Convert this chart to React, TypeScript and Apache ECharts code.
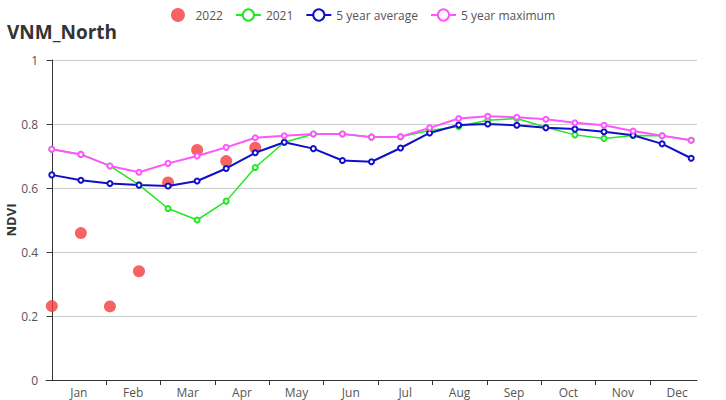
import React, { useEffect, useRef } from "react";
import * as echarts from "echarts";

const months = ["Jan", "Feb", "Mar", "Apr", "May", "Jun", "Jul", "Aug", "Sep", "Oct", "Nov", "Dec"];
const pointIndex = Array.from({ length: 23 }, (_, i) => i);
const y2022 = [0.231, 0.459, 0.23, 0.34, 0.617, 0.719, 0.684, 0.726];
const y2021 = [0.721, 0.705, 0.669, 0.61, 0.536, 0.5, 0.559, 0.664, 0.743, 0.769, 0.769, 0.759, 0.76, 0.78, 0.792, 0.812, 0.817, 0.79, 0.766, 0.755, 0.764, 0.763, 0.749];
const avg5 = [0.641, 0.624, 0.614, 0.609, 0.606, 0.622, 0.661, 0.71, 0.743, 0.723, 0.686, 0.682, 0.725, 0.772, 0.797, 0.8, 0.796, 0.788, 0.784, 0.776, 0.765, 0.738, 0.693];
const max5 = [0.721, 0.705, 0.669, 0.649, 0.677, 0.7, 0.727, 0.757, 0.763, 0.769, 0.769, 0.759, 0.76, 0.788, 0.817, 0.824, 0.821, 0.815, 0.804, 0.796, 0.778, 0.763, 0.749];

const FONT = "'Open Sans', 'Noto Sans', sans-serif";

export default function App() {
  const ref = useRef<HTMLDivElement>(null);
  useEffect(() => {
    document.body.style.margin = "0";
    const chart = echarts.init(ref.current!, null, { renderer: "svg" });
    const pair = (arr: number[]) => arr.map((v, i) => [pointIndex[i], v]);
    chart.setOption({
      animation: false,
      textStyle: { fontFamily: FONT },
      title: {
        text: "VNM_North",
        left: 2,
        top: 17,
        textStyle: { fontSize: 19, fontWeight: "bold", color: "#333", fontFamily: FONT },
      },
      legend: {
        top: 3,
        left: "center",
        itemGap: 12,
        itemWidth: 25,
        itemHeight: 14,
        textStyle: { fontSize: 12, color: "#555", fontFamily: FONT },
        data: [
          { name: "2022", icon: "circle" },
          "2021",
          "5 year average",
          "5 year maximum",
        ],
      },
      grid: { left: 46, right: 29, top: 60, bottom: 20, containLabel: false, outerBoundsMode: "none" },
      xAxis: [
        { type: "value", min: -0.2, max: 22.2, show: false },
        {
          type: "value",
          min: -0.103,
          max: 11.864,
          position: "bottom",
          axisLine: { show: true, lineStyle: { color: "#333" } },
          axisTick: { show: true, customValues: [1, 2, 3, 4, 5, 6, 7, 8, 9, 10, 11], lineStyle: { color: "#333" } },
          axisLabel: {
            customValues: months.map((_, i) => i + 0.5),
            formatter: (v: number) => months[Math.round(v - 0.5)] ?? "",
            color: "#555",
            fontSize: 12,
            margin: 6,
            fontFamily: FONT,
          },
          splitLine: { show: false },
        },
      ],
      yAxis: {
        type: "value",
        min: 0,
        max: 1,
        interval: 0.2,
        name: "NDVI",
        nameLocation: "middle",
        nameGap: 29,
        nameMoveOverlap: false,
        nameTextStyle: { fontWeight: "bold", fontSize: 13, color: "#333", fontFamily: FONT },
        axisLine: { show: true, lineStyle: { color: "#333" } },
        axisTick: { show: true, lineStyle: { color: "#333" } },
        axisLabel: { color: "#555", fontSize: 12, fontFamily: FONT },
        splitLine: { show: true, lineStyle: { color: "#ccc" } },
      },
      series: [
        {
          name: "2022",
          type: "scatter",
          xAxisIndex: 0,
          data: pair(y2022),
          symbolSize: 12,
          itemStyle: { color: "#f23c3c" },
        },
        {
          name: "2021",
          type: "line",
          xAxisIndex: 0,
          data: pair(y2021),
          symbol: "emptyCircle",
          symbolSize: 5,
          lineStyle: { width: 1.5, color: "#22e822" },
          itemStyle: { color: "#22e822" },
        },
        {
          name: "5 year average",
          type: "line",
          xAxisIndex: 0,
          data: pair(avg5),
          symbol: "emptyCircle",
          symbolSize: 5,
          lineStyle: { width: 2, color: "#1010c8" },
          itemStyle: { color: "#1010c8" },
        },
        {
          name: "5 year maximum",
          type: "line",
          xAxisIndex: 0,
          data: pair(max5),
          symbol: "emptyCircle",
          symbolSize: 5,
          lineStyle: { width: 2, color: "#ff55ff" },
          itemStyle: { color: "#ff55ff" },
        },
      ],
    });
    return () => chart.dispose();
  }, []);
  return <div ref={ref} style={{ position: "absolute", left: 0, top: 0, width: 726, height: 400 }} />;
}
